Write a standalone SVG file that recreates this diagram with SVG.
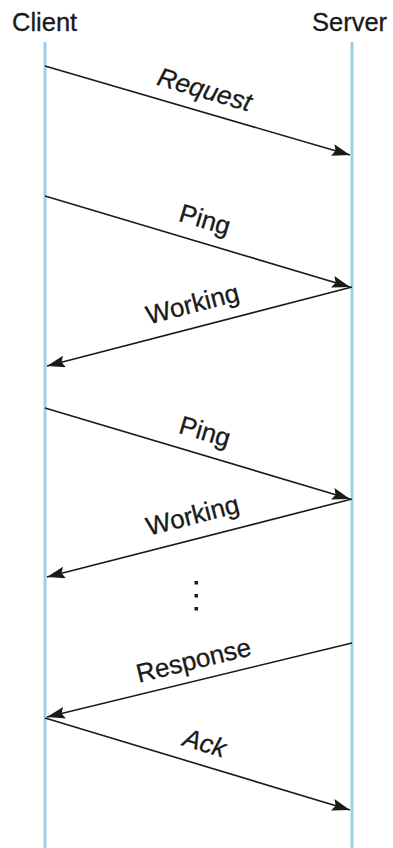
<svg xmlns="http://www.w3.org/2000/svg" width="393" height="848" viewBox="0 0 393 848">
<style>
.life{stroke:#9fcde8;stroke-width:3;fill:none}
.msg{stroke:#1a1a1a;stroke-width:1.6;fill:none;marker-end:url(#ah)}
.hdr{font-family:"Liberation Sans",Arial,sans-serif;font-size:25.5px;fill:#1a1a1a;stroke:#1a1a1a;stroke-width:0.3}
.lbl{font-family:"Liberation Sans",Arial,sans-serif;font-size:26px;fill:#1a1a1a;stroke:#1a1a1a;stroke-width:0.3;text-anchor:middle}
.it{font-style:italic}
.dot{fill:#1a1a1a}
</style>
<defs>
<marker id="ah" markerUnits="userSpaceOnUse" markerWidth="20" markerHeight="13" refX="18" refY="6" orient="auto">
<path d="M0,0 L18,6 L0,12 L3,6 z" fill="#1a1a1a"/>
</marker>
</defs>
<rect width="393" height="848" fill="#ffffff"/>
<g id="client">
<text class="hdr" x="12" y="31">Client</text>
<line class="life" x1="45" y1="42" x2="45" y2="848"/>
</g>
<g id="server">
<text class="hdr" x="312" y="31">Server</text>
<line class="life" x1="352" y1="42" x2="352" y2="848"/>
</g>
<g id="connectors">
<line class="msg" x1="45" y1="66" x2="350" y2="155"/>
<line class="msg" x1="45" y1="196" x2="350" y2="287"/>
<line class="msg" x1="352" y1="287" x2="47" y2="366"/>
<line class="msg" x1="45" y1="408" x2="350" y2="499"/>
<line class="msg" x1="352" y1="499" x2="47" y2="577"/>
<line class="msg" x1="352" y1="643" x2="47" y2="717"/>
<line class="msg" x1="45" y1="718" x2="350" y2="810"/>
</g>
<g id="labels">
<text class="lbl it" transform="translate(198.5,110.5) rotate(16.2)" y="-13">Request</text>
<text class="lbl" transform="translate(198.5,241.5) rotate(16.5)" y="-14">Ping</text>
<text class="lbl" transform="translate(198.5,327) rotate(-14.6)" y="-15">Working</text>
<text class="lbl" transform="translate(198.5,453.5) rotate(16.5)" y="-14">Ping</text>
<text class="lbl" transform="translate(198.5,538.5) rotate(-14.4)" y="-15">Working</text>
<text class="lbl" transform="translate(198.5,680.5) rotate(-13.7)" y="-12">Response</text>
<text class="lbl it" transform="translate(198.5,764) rotate(16.7)" y="-13">Ack</text>
</g>
<g id="ellipsis">
<rect class="dot" x="194.5" y="581" width="3.5" height="3.5"/>
<rect class="dot" x="194.5" y="594" width="3.5" height="3.5"/>
<rect class="dot" x="194.5" y="607" width="3.5" height="3.5"/>
</g>
</svg>
